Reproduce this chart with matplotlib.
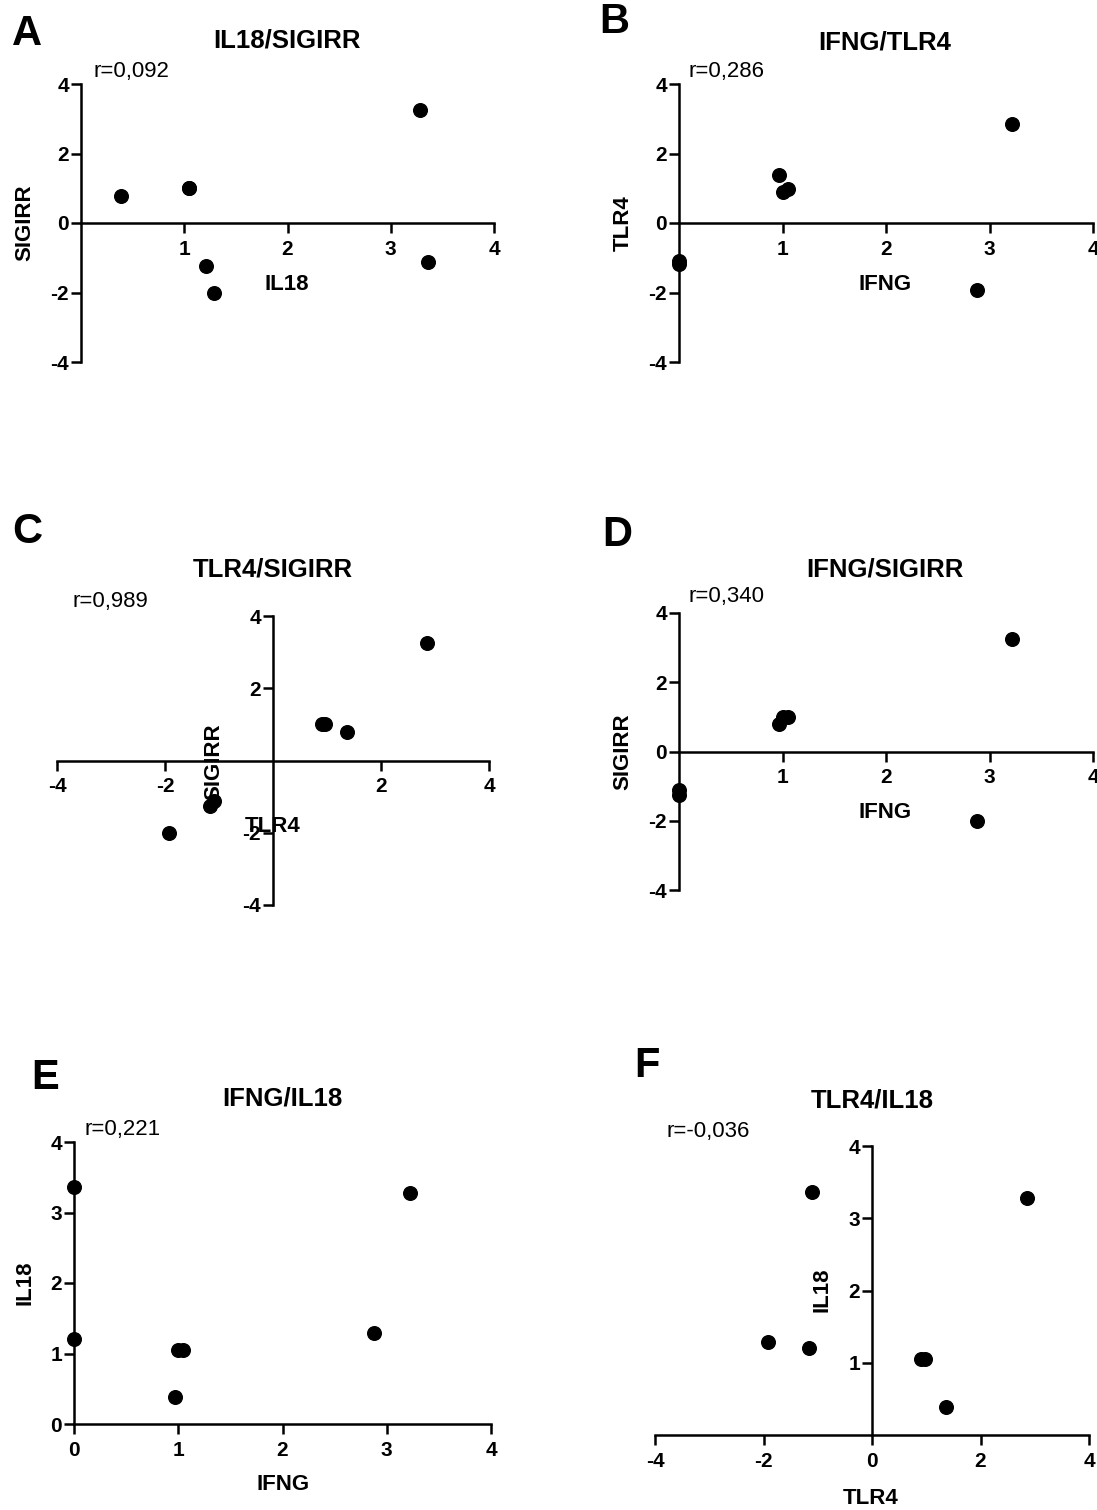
import matplotlib
matplotlib.use("Agg")
import matplotlib.pyplot as plt

plt.rcParams['font.family'] = ['Liberation Sans', 'DejaVu Sans']

# expression values per sample
IFNG = [0.00, 0.00, 1.00, 1.05, 0.97, 2.88, 3.22]
IL18 = [3.36, 1.21, 1.05, 1.05, 0.39, 1.29, 3.28]
TLR4 = [-1.10, -1.17, 0.90, 0.97, 1.37, -1.92, 2.86]
SIGIRR = [-1.11, -1.25, 1.00, 1.00, 0.78, -2.02, 3.25]

letters = ['A', 'B', 'C', 'D', 'E', 'F']
titles = ['IL18/SIGIRR', 'IFNG/TLR4', 'TLR4/SIGIRR', 'IFNG/SIGIRR', 'IFNG/IL18', 'TLR4/IL18']
r_texts = ['r=0,092', 'r=0,286', 'r=0,989', 'r=0,340', 'r=0,221', 'r=-0,036']
x_names = ['IL18', 'IFNG', 'TLR4', 'IFNG', 'IFNG', 'TLR4']
y_names = ['SIGIRR', 'TLR4', 'SIGIRR', 'SIGIRR', 'IL18', 'IL18']
series = {'IL18': IL18, 'IFNG': IFNG, 'TLR4': TLR4, 'SIGIRR': SIGIRR}
xlims = [(0, 4), (0, 4), (-4, 4), (0, 4), (0, 4), (-4, 4)]
ylims = [(-4, 4), (-4, 4), (-4, 4), (-4, 4), (0, 4), (0, 4)]
xtick_sets = [[1, 2, 3, 4], [1, 2, 3, 4], [-4, -2, 2, 4], [1, 2, 3, 4], [0, 1, 2, 3, 4], [-4, -2, 0, 2, 4]]
ytick_sets = [[-4, -2, 0, 2, 4], [-4, -2, 0, 2, 4], [-4, -2, 2, 4], [-4, -2, 0, 2, 4], [0, 1, 2, 3, 4], [1, 2, 3, 4]]

W, H = 1097, 1510
fig = plt.figure(figsize=(W / 100, H / 100), dpi=100)

# layout in pixels: axes box (left, right, top, bottom), then text anchors
boxes = [(81, 494, 84, 362), (679, 1093, 84, 362), (57, 489, 616, 905),
         (679, 1093, 613, 890), (74, 491, 1142, 1424), (655, 1089, 1146, 1435)]
letter_pos = [(27, 34), (614, 22), (27, 532), (617, 535), (45, 1078), (647, 1066)]
title_pos = [(287, 41), (885, 42), (273, 570), (885, 570), (282, 1099), (872, 1100)]
r_pos = [(93, 71), (689, 71), (72, 601), (689, 597), (85, 1129), (667, 1131)]
xlab_pos = [(287, 284), (885, 284), (273, 826), (885, 812), (283, 1485), (871, 1498)]
ylab_pos = [(25, 223), (623, 223), (214, 762), (623, 752), (25, 1283), (822, 1290)]


def fx(x):
    return x / W


def fy(y):
    return 1 - y / H


for i in range(6):
    l, r, t, b = boxes[i]
    ax = fig.add_axes([fx(l), fy(b), (r - l) / W, (b - t) / H])
    ax.set_xlim(*xlims[i])
    ax.set_ylim(*ylims[i])
    ax.spines['top'].set_visible(False)
    ax.spines['right'].set_visible(False)
    ax.spines['left'].set_position(('data', 0))
    ax.spines['bottom'].set_position(('data', 0))
    for s in ('left', 'bottom'):
        ax.spines[s].set_linewidth(1.8)
        ax.spines[s].set_capstyle('projecting')
    ax.set_xticks(xtick_sets[i])
    ax.set_yticks(ytick_sets[i])
    ax.set_xticklabels([str(v) for v in xtick_sets[i]], fontsize=15, fontweight='bold')
    ax.set_yticklabels([str(v) for v in ytick_sets[i]], fontsize=15, fontweight='bold')
    ax.tick_params(axis='x', direction='out', length=7, width=1.8, pad=5)
    ax.tick_params(axis='y', direction='out', length=7, width=1.8, pad=1.5)
    ax.patch.set_visible(False)

    xs = series[x_names[i]]
    ys = series[y_names[i]]
    ax.plot(xs, ys, 'o', color='black', ms=9.8, clip_on=False, zorder=5)

    fig.text(fx(letter_pos[i][0]), fy(letter_pos[i][1]), letters[i], fontsize=30,
             fontweight='bold', ha='center', va='center')
    fig.text(fx(title_pos[i][0]), fy(title_pos[i][1]), titles[i], fontsize=18.5,
             fontweight='bold', ha='center', va='center')
    fig.text(fx(r_pos[i][0]), fy(r_pos[i][1]), r_texts[i], fontsize=16,
             ha='left', va='center')
    fig.text(fx(xlab_pos[i][0]), fy(xlab_pos[i][1]), x_names[i], fontsize=16,
             fontweight='bold', ha='center', va='center')
    fig.text(fx(ylab_pos[i][0]), fy(ylab_pos[i][1]), y_names[i], fontsize=16,
             fontweight='bold', ha='center', va='center', rotation=90)

fig.savefig('out.png', dpi=100, facecolor='white')
